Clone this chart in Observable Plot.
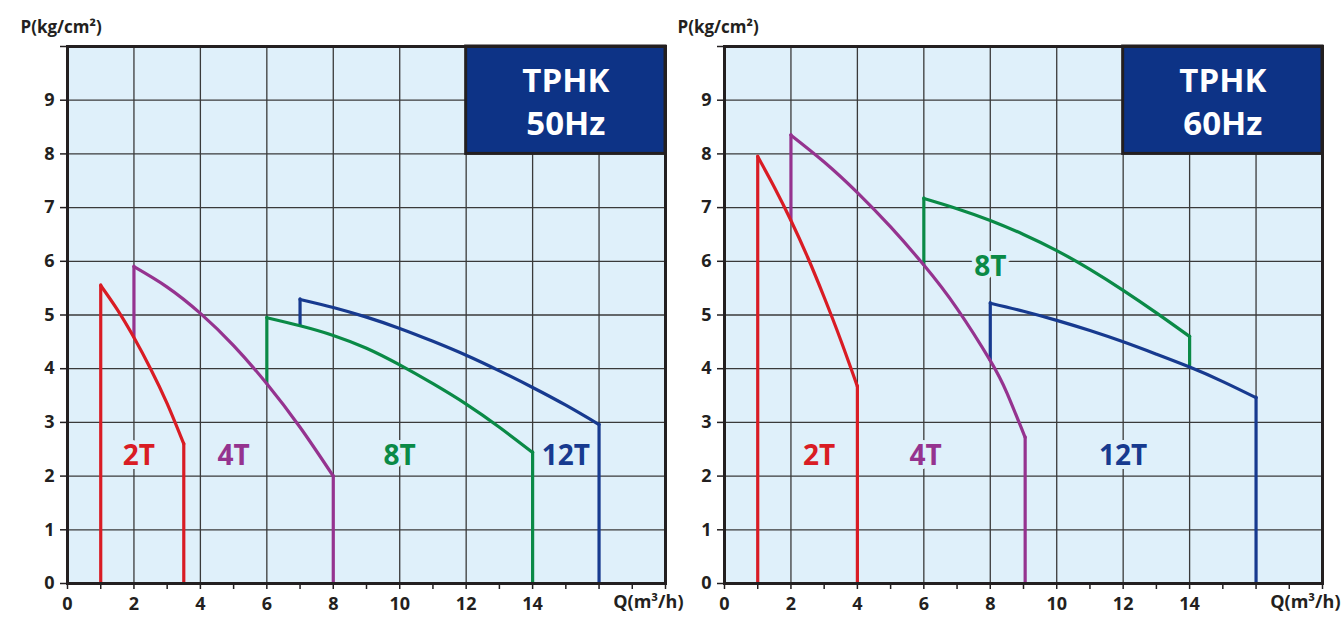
<!DOCTYPE html>
<html><head><meta charset="utf-8">
<script src="https://cdn.jsdelivr.net/npm/d3@7"></script>
<script src="https://cdn.jsdelivr.net/npm/@observablehq/plot@0.6"></script>
<style>
body{margin:0;background:#fff;}
#wrap{display:flex;width:1342px;height:620px;}
</style></head><body><div id="wrap"></div>
<script>
const seriesNames = ["2T", "4T", "8T", "12T"];
const seriesColors = ["#d91c24", "#95338f", "#0a8a46", "#173a8f"];

// 50 Hz panel
const q50_2T = [1, 1.5, 2, 2.5, 3, 3.5];
const p50_2T = [5.55, 5.1, 4.58, 4.0, 3.35, 2.6];
const q50_4T = [2, 3, 4, 5, 6, 7, 8];
const p50_4T = [5.9, 5.52, 5.03, 4.43, 3.72, 2.91, 2.0];
const q50_8T = [6, 7, 8, 9, 10, 11, 12, 13, 14];
const p50_8T = [4.95, 4.8, 4.62, 4.38, 4.07, 3.72, 3.34, 2.91, 2.44];
const q50_12T = [7, 8, 9, 10, 11, 12, 13, 14, 15, 16];
const p50_12T = [5.29, 5.14, 4.96, 4.75, 4.51, 4.25, 3.96, 3.65, 3.32, 2.96];
const startBase50 = [0, 4.58, 3.72, 4.8];
const endBase50 = [0, 0, 0, 0];
const labelQ50 = [2.15, 5, 10, 15];
const labelP50 = [2.38, 2.38, 2.38, 2.38];

// 60 Hz panel
const q60_2T = [1, 1.5, 2, 2.5, 3, 3.5, 4];
const p60_2T = [7.95, 7.38, 6.76, 6.08, 5.33, 4.53, 3.67];
const q60_4T = [2, 3, 4, 5, 6, 7, 8, 8.5, 9.05];
const p60_4T = [8.35, 7.85, 7.28, 6.64, 5.93, 5.12, 4.15, 3.55, 2.72];
const q60_8T = [6, 7, 8, 9, 10, 11, 12, 13, 14];
const p60_8T = [7.17, 6.98, 6.76, 6.5, 6.2, 5.85, 5.46, 5.04, 4.6];
const q60_12T = [8, 9, 10, 11, 12, 13, 14, 15, 16];
const p60_12T = [5.22, 5.07, 4.9, 4.71, 4.5, 4.27, 4.03, 3.76, 3.46];
const startBase60 = [0, 6.76, 5.93, 4.15];
const endBase60 = [0, 0, 4.03, 0];
const labelQ60 = [2.85, 6.05, 8, 12];
const labelP60 = [2.38, 2.38, 5.9, 2.38];

// axes / box
const xTicks = d3.range(0, 19);
const xLabelled = [0, 2, 4, 6, 8, 10, 12, 14];
const yTicks = d3.range(0, 11);
const xGrid = [2, 4, 6, 8, 10, 12, 14, 16];
const yGrid = [1, 2, 3, 4, 5, 6, 7, 8, 9];
const boxQ = [12, 18];
const boxP = [8, 10];
const boxTextQ = 15;
const boxTextP = 9;
const yTitle = "P(kg/cm²)";
const xTitle = "Q(m³/h)";

const BG = "#dff0fa";
const INK = "#231f20";

function panel({title, qs, ps, startBase, endBase, labelQ, labelP, marginLeft, marginRight}) {
  const curves = seriesNames.flatMap((s, i) => qs[i].map((q, j) => ({series: s, q, p: ps[i][j]})));
  const verticals = seriesNames.flatMap((s, i) => {
    const n = qs[i].length - 1;
    return [
      {series: s, q: qs[i][0], p1: startBase[i], p2: ps[i][0]},
      {series: s, q: qs[i][n], p1: endBase[i], p2: ps[i][n]}
    ];
  });
  const labels = seriesNames.map((s, i) => ({series: s, q: labelQ[i], p: labelP[i]}));
  const box = [{q1: boxQ[0], q2: boxQ[1], p1: boxP[0], p2: boxP[1]}];
  return Plot.plot({
    width: 671, height: 620,
    marginTop: 46, marginBottom: 37, marginLeft, marginRight,
    style: {fontFamily: "'Open Sans', sans-serif", fontSize: "18px", fontWeight: 700, background: "transparent", overflow: "visible", color: INK},
    x: {domain: [0, 18]},
    y: {domain: [0, 10]},
    color: {domain: seriesNames, range: seriesColors},
    marks: [
      Plot.frame({fill: BG}),
      Plot.gridX(xGrid, {stroke: "#3a3a3a", strokeOpacity: 1, strokeWidth: 1.3}),
      Plot.gridY(yGrid, {stroke: "#3a3a3a", strokeOpacity: 1, strokeWidth: 1.3}),
      Plot.ruleX(verticals, {x: "q", y1: "p1", y2: "p2", stroke: "series", strokeWidth: 3.2, strokeLinecap: "round"}),
      Plot.line(curves, {x: "q", y: "p", z: "series", stroke: "series", strokeWidth: 3.2, curve: "natural", strokeLinecap: "round", strokeLinejoin: "round"}),
      Plot.text(labels, {x: "q", y: "p", text: "series", fill: "series", fontSize: 28, fontWeight: 700, stroke: BG, strokeWidth: 8}),
      Plot.rect(box, {x1: "q1", x2: "q2", y1: "p1", y2: "p2", fill: "#0d3386", stroke: INK, strokeWidth: 3}),
      Plot.text([title], {x: boxTextQ, y: boxTextP, text: d => d, fill: "white", fontSize: 33, fontWeight: 700, lineHeight: 1.3}),
      Plot.axisY(yTicks, {tickSize: 7, tickPadding: 6, tickFormat: d => d < 10 ? d : "", label: null, strokeWidth: 1.5, fontSize: 18}),
      Plot.axisX(xTicks, {tickSize: 6, tickPadding: 8, tickFormat: d => xLabelled.includes(d) ? d : "", label: null, strokeWidth: 1.5, fontSize: 18}),
      Plot.text([xTitle], {text: d => d, frameAnchor: "bottom-right", textAnchor: "end", dx: 18, dy: 24, fontSize: 18, fill: INK}),
      Plot.text([yTitle], {text: d => d, frameAnchor: "top-left", textAnchor: "start", dx: -47, dy: -26, fontSize: 17, fill: INK}),
      Plot.frame({stroke: INK, strokeWidth: 3})
    ]
  });
}

const wrap = document.getElementById("wrap");
wrap.appendChild(panel({
  title: "TPHK\n50Hz",
  qs: [q50_2T, q50_4T, q50_8T, q50_12T],
  ps: [p50_2T, p50_4T, p50_8T, p50_12T],
  startBase: startBase50, endBase: endBase50,
  labelQ: labelQ50, labelP: labelP50,
  marginLeft: 67, marginRight: 6
}));
wrap.appendChild(panel({
  title: "TPHK\n60Hz",
  qs: [q60_2T, q60_4T, q60_8T, q60_12T],
  ps: [p60_2T, p60_4T, p60_8T, p60_12T],
  startBase: startBase60, endBase: endBase60,
  labelQ: labelQ60, labelP: labelP60,
  marginLeft: 53, marginRight: 20
}));
</script></body></html>
